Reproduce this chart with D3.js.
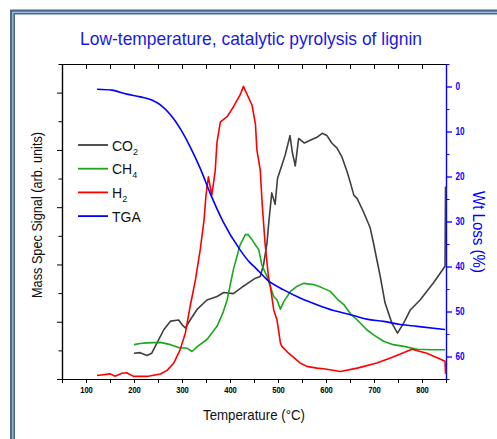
<!DOCTYPE html>
<html>
<head>
<meta charset="utf-8">
<script src="https://cdn.jsdelivr.net/npm/d3@7"></script>
<style>
  body { margin: 0; background: #fff; }
  text { font-family: "Liberation Sans", Arial, sans-serif; }
</style>
</head>
<body>
<script>
// temperatures in degC, gas signals in arbitrary units, TGA in % weight loss
var co2Data = [[200,0.45],[213,0.46],[227,0.41],[237,0.45],[248,0.63],[262,0.86],[276,1.01],[293,1.03],[300,0.95],[307,0.89],[317,1.03],[331,1.21],[352,1.38],[373,1.44],[387,1.51],[407,1.49],[428,1.62],[442,1.70],[453,1.76],[463,1.79],[470,2.0],[477,2.37],[481,2.75],[487,3.25],[494,3.05],[499,3.5],[508,3.73],[515,3.91],[525,4.25],[530,3.95],[536,3.72],[543,4.20],[555,4.12],[567,4.17],[581,4.22],[592,4.29],[602,4.25],[612,4.12],[623,4.03],[633,3.88],[644,3.62],[651,3.42],[658,3.21],[665,3.15],[678,2.92],[692,2.64],[699,2.37],[713,1.79],[723,1.33],[737,0.98],[749,0.80],[762,0.98],[776,1.21],[796,1.38],[824,1.68],[848,1.97],[849,3.36]];

var ch4Data = [[200,0.60],[213,0.62],[227,0.63],[255,0.64],[276,0.60],[296,0.54],[310,0.54],[321,0.48],[331,0.56],[352,0.69],[373,0.92],[385,1.15],[394,1.38],[407,1.91],[421,2.34],[432,2.52],[438,2.52],[446,2.43],[453,2.34],[460,2.26],[466,2.0],[477,1.79],[491,1.44],[498,1.38],[505,1.22],[512,1.35],[526,1.53],[540,1.62],[553,1.67],[574,1.65],[590,1.60],[609,1.53],[623,1.40],[637,1.30],[651,1.14],[665,1.03],[685,0.86],[699,0.77],[720,0.66],[740,0.60],[762,0.57],[790,0.52],[820,0.51],[848,0.51]];

var h2Data = [[123,0.06],[150,0.09],[160,0.05],[175,0.10],[185,0.11],[199,0.045],[227,0.045],[255,0.087],[269,0.15],[283,0.28],[296,0.51],[307,0.80],[317,1.27],[328,1.73],[338,2.26],[346,2.78],[350,3.21],[355,3.53],[362,3.21],[369,3.62],[373,4.14],[380,4.49],[394,4.58],[407,4.75],[421,4.96],[428,5.11],[435,4.98],[446,4.78],[453,4.45],[456,4.0],[463,3.65],[467,3.07],[473,2.37],[480,1.79],[484,1.62],[491,1.21],[498,1.03],[505,0.63],[508,0.57],[522,0.45],[546,0.28],[560,0.22],[581,0.19],[595,0.18],[630,0.13],[665,0.19],[706,0.28],[741,0.39],[779,0.52],[810,0.45],[848,0.31],[849,0.09]];

var tgaData = [[123,0.6],[154,0.8],[185,1.7],[213,2.3],[237,3.0],[255,4.1],[276,6.3],[296,9.3],[317,13.4],[338,18.2],[359,23.8],[385,29.9],[421,36.3],[442,39.2],[453,40.3],[477,42.9],[512,45.2],[546,47.0],[581,48.5],[616,49.8],[651,50.7],[685,51.7],[720,52.2],[755,52.9],[790,53.3],[848,54.0]];

var xTicks = d3.range(50, 851, 50);
var xLabels = [100, 200, 300, 400, 500, 600, 700, 800];
var wtTicks = [0, 10, 20, 30, 40, 50, 60];
var leftTicks = [0, 1, 2, 3, 4, 5];

var series = [
    {name: "CO", sub: "2", data: co2Data, color: "#3f3f3f"},
    {name: "CH", sub: "4", data: ch4Data, color: "#1aa81a"},
    {name: "H", sub: "2", data: h2Data, color: "#ff0000"},
    {name: "TGA", sub: "", data: tgaData, color: "#0000ff"}
];

var width = 497, height = 439;
var plotL = 62, plotR = 446, plotT = 64, plotB = 379;

var svg = d3.select("body").append("svg")
    .attr("width", width)
    .attr("height", height);

//slide style frame
svg.append("rect")
    .attr("x", 12.5).attr("y", 12).attr("width", 500).attr("height", 450)
    .attr("fill", "#fff").attr("stroke", "#46698f").attr("stroke-width", 5);
svg.append("rect")
    .attr("x", 12.8).attr("y", 12.3).attr("width", 500).attr("height", 450)
    .attr("fill", "none").attr("stroke", "#b3c4d8").attr("stroke-width", 1.2);

var x = d3.scaleLinear().domain([50, 850]).range([plotL, plotR]);
var yL = d3.scaleLinear().domain([0, 5.5]).range([plotB, plotT]);
var yR = d3.scaleLinear().domain([-5, 65]).range([plotT, plotB]);

//bottom axis
var xAxis = svg.append("g")
    .attr("transform", "translate(0," + plotB + ")")
    .call(d3.axisBottom(x).tickValues(xTicks).tickSize(4).tickSizeOuter(0)
        .tickFormat(function(d){ return xLabels.indexOf(d) >= 0 ? d : ""; }));
xAxis.selectAll("text")
    .attr("y", 7.5).attr("dy", "0.71em")
    .attr("transform", "scale(0.8,1)")
    .style("font-size", "9.5px").style("font-weight", "bold").attr("fill", "#000");

//top axis, ticks pointing in
svg.append("g")
    .attr("transform", "translate(0," + plotT + ")")
    .call(d3.axisBottom(x).tickValues(xTicks).tickSize(5).tickSizeOuter(0).tickFormat(""));

//left axis, no labels
svg.append("g")
    .attr("transform", "translate(" + plotL + ",0)")
    .call(d3.axisLeft(yL).tickValues(leftTicks).tickSize(5).tickSizeOuter(0).tickFormat(""));
svg.append("g")
    .attr("transform", "translate(" + plotL + ",0)")
    .call(d3.axisLeft(yL).tickValues(d3.range(0.5, 5.6, 1)).tickSize(3.5).tickSizeOuter(0).tickFormat(""));

//right axis in blue
var rAxis = svg.append("g")
    .attr("transform", "translate(" + plotR + ",0)")
    .call(d3.axisRight(yR).tickValues(wtTicks).tickSize(6).tickSizeOuter(0));
svg.append("g")
    .attr("transform", "translate(" + plotR + ",0)")
    .call(d3.axisRight(yR).tickValues(d3.range(-5, 66, 10)).tickSize(3.5).tickSizeOuter(0).tickFormat(""))
    .selectAll("line, path").attr("stroke", "#0000ff");
rAxis.selectAll("line, path").attr("stroke", "#0000ff").attr("stroke-width", 1.3);
rAxis.selectAll("text")
    .attr("x", 11.5).attr("transform", "scale(0.82,1)")
    .attr("fill", "#0000ff")
    .style("font-size", "10px").style("font-weight", "bold");

svg.selectAll(".domain").attr("stroke-width", 1.2);

//curves
var line = d3.line()
    .x(function(d){ return x(d[0]); });

svg.selectAll(".gas")
    .data(series)
    .enter()
    .append("path")
    .attr("class", "gas")
    .attr("fill", "none")
    .attr("stroke", function(d){ return d.color; })
    .attr("stroke-width", 1.6)
    .attr("stroke-linejoin", "round")
    .attr("d", function(d){
        if (d.name == "TGA") {
            return line.y(function(p){ return yR(p[1]); }).curve(d3.curveMonotoneX)(d.data);
        }
        return line.y(function(p){ return yL(p[1]); }).curve(d3.curveLinear)(d.data);
    });

//legend
var legend = svg.selectAll(".legend")
    .data(series)
    .enter()
    .append("g")
    .attr("class", "legend")
    .attr("transform", function(d, i){ return "translate(78," + (145 + i * 23.7) + ")"; });
legend.append("line")
    .attr("x1", 0).attr("x2", 30)
    .attr("stroke", function(d){ return d.color; })
    .attr("stroke-width", 1.8);
var legendText = legend.append("text")
    .attr("x", 34).attr("y", 5.5)
    .style("font-size", "14px").attr("fill", "#111");
legendText.append("tspan").text(function(d){ return d.name; });
legendText.append("tspan")
    .attr("dy", 4).style("font-size", "9px")
    .text(function(d){ return d.sub; });

//titles
svg.append("text")
    .attr("x", 251).attr("y", 45)
    .attr("text-anchor", "middle")
    .attr("textLength", 342).attr("lengthAdjust", "spacingAndGlyphs")
    .style("font-size", "19px").attr("fill", "#1a1adf")
    .text("Low-temperature, catalytic pyrolysis of lignin");

svg.append("text")
    .attr("x", 254).attr("y", 420)
    .attr("text-anchor", "middle")
    .attr("textLength", 102).attr("lengthAdjust", "spacingAndGlyphs")
    .style("font-size", "14.5px").attr("fill", "#111")
    .text("Temperature (°C)");

svg.append("text")
    .attr("transform", "translate(42,215) rotate(-90)")
    .attr("text-anchor", "middle")
    .attr("textLength", 166).attr("lengthAdjust", "spacingAndGlyphs")
    .style("font-size", "14.5px").attr("fill", "#111")
    .text("Mass Spec Signal (arb. units)");

svg.append("text")
    .attr("transform", "translate(473,232) rotate(90)")
    .attr("text-anchor", "middle")
    .attr("textLength", 82).attr("lengthAdjust", "spacingAndGlyphs")
    .style("font-size", "16px").attr("fill", "#0000ff")
    .text("Wt Loss (%)");
</script>
</body>
</html>
